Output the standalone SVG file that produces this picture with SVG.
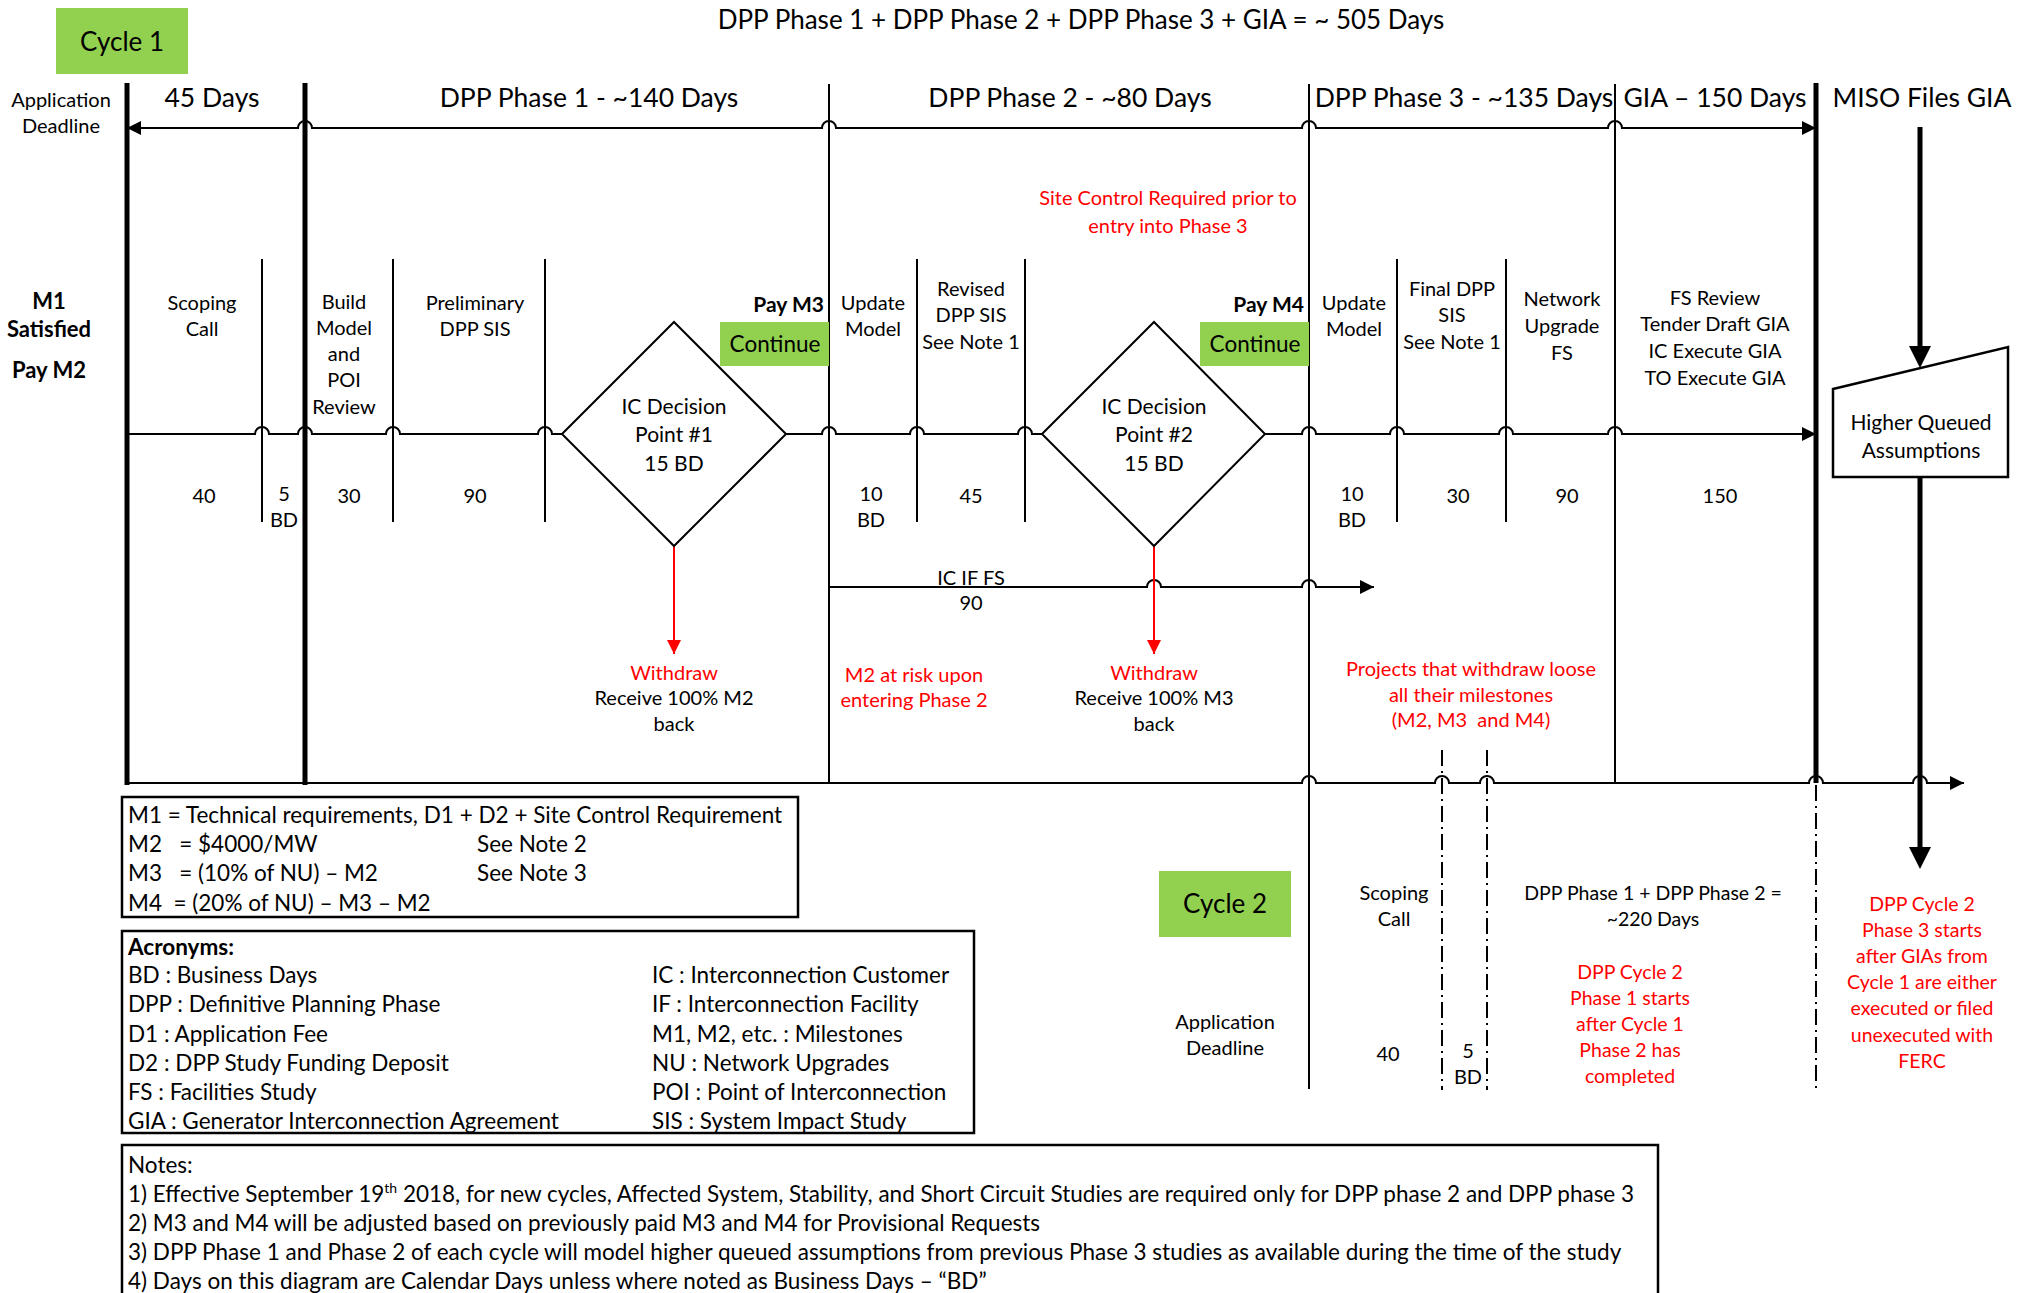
<svg xmlns="http://www.w3.org/2000/svg" width="2023" height="1293" viewBox="0 0 2023 1293">
<style>
.t{font-family:Lato,"Liberation Sans",sans-serif;font-size:20px;fill:#000;text-anchor:middle}
.big{font-size:26.5px}
.md{font-size:21px}
.sm{font-size:19.5px}
.bx{font-size:22.5px}
.red{fill:#FF0000}
.b{font-weight:bold}
.l{text-anchor:start}
.e{text-anchor:end}
.ln{fill:none;stroke:#000;stroke-width:2}
.thick{fill:none;stroke:#000;stroke-width:5}
.dash{fill:none;stroke:#000;stroke-width:2;stroke-dasharray:16 5 2 5}
.rl{fill:none;stroke:#FF0000;stroke-width:2}
.box{fill:#fff;stroke:#000;stroke-width:2.5}
.green{fill:#92D050}
</style>
<defs>
<marker id="ah" viewBox="0 0 10 10" refX="10" refY="5" markerWidth="14" markerHeight="14" markerUnits="userSpaceOnUse" orient="auto-start-reverse"><path d="M0,0 L10,5 L0,10 z" fill="#000"/></marker>
<marker id="ahr" viewBox="0 0 10 10" refX="10" refY="5" markerWidth="15" markerHeight="14" markerUnits="userSpaceOnUse" orient="auto"><path d="M0,0 L10,5 L0,10 z" fill="#FF0000"/></marker>
</defs>
<rect width="2023" height="1293" fill="#fff"/>

<g id="connectors">
  <path class="ln" marker-start="url(#ah)" marker-end="url(#ah)" d="M127,128 H298 A7,7 0 0 1 312,128 H822 A7,7 0 0 1 836,128 H1302 A7,7 0 0 1 1316,128 H1608 A7,7 0 0 1 1622,128 H1816"/>
  <path class="ln" d="M127,434 H255 A7,7 0 0 1 269,434 H298 A7,7 0 0 1 312,434 H386 A7,7 0 0 1 400,434 H538 A7,7 0 0 1 552,434 H562"/>
  <path class="ln" d="M786,434 H822 A7,7 0 0 1 836,434 H910 A7,7 0 0 1 924,434 H1018 A7,7 0 0 1 1032,434 H1042"/>
  <path class="ln" marker-end="url(#ah)" d="M1265,434 H1302 A7,7 0 0 1 1316,434 H1390 A7,7 0 0 1 1404,434 H1499 A7,7 0 0 1 1513,434 H1608 A7,7 0 0 1 1622,434 H1816"/>
  <path class="ln" marker-end="url(#ah)" d="M829,587 H1147 A7,7 0 0 1 1161,587 H1302 A7,7 0 0 1 1316,587 H1374"/>
  <path class="ln" marker-end="url(#ah)" d="M127,783 H1302 A7,7 0 0 1 1316,783 H1435 A7,7 0 0 1 1449,783 H1480 A7,7 0 0 1 1494,783 H1809 A7,7 0 0 1 1823,783 H1913 A7,7 0 0 1 1927,783 H1964"/>
  <path class="thick" d="M127,83 V785"/>
  <path class="thick" d="M305,83 V785"/>
  <path class="thick" d="M1816,83 V783"/>
  <path class="ln" d="M829,84 V783"/>
  <path class="ln" d="M1309,84 V1089"/>
  <path class="ln" d="M1615,84 V783"/>
  <path class="ln" d="M262,259 V522 M393,259 V522 M545,259 V522 M917,259 V522 M1025,259 V522 M1397,259 V522 M1506,259 V522"/>
  <path class="dash" d="M1442,750 V1090 M1487,750 V1090 M1816,785 V1090"/>
  <path class="rl" marker-end="url(#ahr)" d="M674,546 V654"/>
  <path class="rl" marker-end="url(#ahr)" d="M1154,546 V654"/>
  <path class="thick" d="M1920,127 V350"/>
  <polygon points="1909,346 1931,346 1920,368" fill="#000"/>
  <path class="thick" d="M1920,477 V850"/>
  <polygon points="1909,847 1931,847 1920,869" fill="#000"/>
</g>

<g id="title">
  <text class="t" style="font-size:26px" x="1081" y="29">DPP Phase 1 + DPP Phase 2 + DPP Phase 3 + GIA = ~ 505 Days</text>
</g>

<g id="cycle1">
  <rect class="green" x="56" y="8" width="132" height="66"/>
  <text class="t" style="font-size:26px" x="122" y="51">Cycle 1</text>
</g>

<g id="phase-labels">
  <text class="t big" x="212" y="107">45 Days</text>
  <text class="t big" x="589" y="107">DPP Phase 1 - ~140 Days</text>
  <text class="t big" x="1070" y="107">DPP Phase 2 - ~80 Days</text>
  <text class="t big" x="1464" y="107">DPP Phase 3 - ~135 Days</text>
  <text class="t big" x="1715" y="107">GIA – 150 Days</text>
  <text class="t big" x="1922" y="107">MISO Files GIA</text>
</g>

<g id="app-deadline">
  <text class="t" x="61" y="107">Application</text>
  <text class="t" x="61" y="133">Deadline</text>
</g>

<g id="m1-satisfied">
  <text class="t b" style="font-size:22px" x="49" y="309">M1</text>
  <text class="t b" style="font-size:22px" x="49" y="337">Satisfied</text>
  <text class="t b" style="font-size:22px" x="49" y="378">Pay M2</text>
</g>

<g id="scoping-call">
  <text class="t" x="202" y="310">Scoping</text>
  <text class="t" x="202" y="336">Call</text>
  <text class="t" x="204" y="503">40</text>
  <text class="t" x="284" y="501">5</text>
  <text class="t" x="284" y="527">BD</text>
</g>

<g id="build-model">
  <text class="t" x="344" y="309">Build</text>
  <text class="t" x="344" y="335">Model</text>
  <text class="t" x="344" y="361">and</text>
  <text class="t" x="344" y="387">POI</text>
  <text class="t" x="344" y="414">Review</text>
  <text class="t" x="349" y="503">30</text>
</g>

<g id="preliminary-sis">
  <text class="t" x="475" y="310">Preliminary</text>
  <text class="t" x="475" y="336">DPP SIS</text>
  <text class="t" x="475" y="503">90</text>
</g>

<g id="decision-1">
  <polygon class="ln" points="562,434 674,322 786,434 674,546"/>
  <text class="t md" x="674" y="414">IC Decision</text>
  <text class="t md" x="674" y="442">Point #1</text>
  <text class="t md" x="674" y="471">15 BD</text>
</g>

<g id="continue-1">
  <text class="t md b e" x="824" y="312">Pay M3</text>
  <rect class="green" x="720" y="322" width="109" height="44"/>
  <text class="t" style="font-size:22.5px" x="775" y="352">Continue</text>
</g>

<g id="withdraw-1">
  <text class="t red" x="674" y="680">Withdraw</text>
  <text class="t" x="674" y="705">Receive 100% M2</text>
  <text class="t" x="674" y="731">back</text>
</g>

<g id="update-model-2">
  <text class="t" x="873" y="310">Update</text>
  <text class="t" x="873" y="336">Model</text>
  <text class="t" x="871" y="501">10</text>
  <text class="t" x="871" y="527">BD</text>
</g>

<g id="revised-sis">
  <text class="t" x="971" y="296">Revised</text>
  <text class="t" x="971" y="322">DPP SIS</text>
  <text class="t" x="971" y="349">See Note 1</text>
  <text class="t" x="971" y="503">45</text>
</g>

<g id="site-control">
  <text class="t red" x="1168" y="205">Site Control Required prior to</text>
  <text class="t red" x="1168" y="233">entry into Phase 3</text>
</g>

<g id="ic-if-fs">
  <text class="t" x="971" y="585">IC IF FS</text>
  <text class="t" x="971" y="610">90</text>
</g>

<g id="m2-risk">
  <text class="t red" x="914" y="682">M2 at risk upon</text>
  <text class="t red" x="914" y="707">entering Phase 2</text>
</g>

<g id="decision-2">
  <polygon class="ln" points="1042,434 1154,322 1265,434 1154,546"/>
  <text class="t md" x="1154" y="414">IC Decision</text>
  <text class="t md" x="1154" y="442">Point #2</text>
  <text class="t md" x="1154" y="471">15 BD</text>
</g>

<g id="continue-2">
  <text class="t md b e" x="1304" y="312">Pay M4</text>
  <rect class="green" x="1200" y="322" width="109" height="44"/>
  <text class="t" style="font-size:22.5px" x="1255" y="352">Continue</text>
</g>

<g id="withdraw-2">
  <text class="t red" x="1154" y="680">Withdraw</text>
  <text class="t" x="1154" y="705">Receive 100% M3</text>
  <text class="t" x="1154" y="731">back</text>
</g>

<g id="update-model-3">
  <text class="t" x="1354" y="310">Update</text>
  <text class="t" x="1354" y="336">Model</text>
  <text class="t" x="1352" y="501">10</text>
  <text class="t" x="1352" y="527">BD</text>
</g>

<g id="final-sis">
  <text class="t" x="1452" y="296">Final DPP</text>
  <text class="t" x="1452" y="322">SIS</text>
  <text class="t" x="1452" y="349">See Note 1</text>
  <text class="t" x="1458" y="503">30</text>
</g>

<g id="nu-fs">
  <text class="t" x="1562" y="306">Network</text>
  <text class="t" x="1562" y="333">Upgrade</text>
  <text class="t" x="1562" y="360">FS</text>
  <text class="t" x="1567" y="503">90</text>
</g>

<g id="gia">
  <text class="t" x="1715" y="305">FS Review</text>
  <text class="t" x="1715" y="331">Tender Draft GIA</text>
  <text class="t" x="1715" y="358">IC Execute GIA</text>
  <text class="t" x="1715" y="385">TO Execute GIA</text>
  <text class="t" x="1720" y="503">150</text>
</g>

<g id="withdraw-note">
  <text class="t red" x="1471" y="676">Projects that withdraw loose</text>
  <text class="t red" x="1471" y="702">all their milestones</text>
  <text class="t red" x="1471" y="727" xml:space="preserve">(M2, M3  and M4)</text>
</g>

<g id="higher-queued">
  <polygon points="1833,389 2008,347 2008,477 1833,477" fill="#fff" stroke="#000" stroke-width="2.5"/>
  <text class="t" style="font-size:21px" x="1921" y="430">Higher Queued</text>
  <text class="t" style="font-size:21px" x="1921" y="458">Assumptions</text>
</g>

<g id="cycle2">
  <rect class="green" x="1159" y="871" width="132" height="66"/>
  <text class="t" style="font-size:26px" x="1225" y="913">Cycle 2</text>
  <text class="t" x="1225" y="1029">Application</text>
  <text class="t" x="1225" y="1055">Deadline</text>
</g>

<g id="cycle2-scoping">
  <text class="t" x="1394" y="900">Scoping</text>
  <text class="t" x="1394" y="926">Call</text>
  <text class="t" x="1388" y="1061">40</text>
  <text class="t" x="1468" y="1058">5</text>
  <text class="t" x="1468" y="1084">BD</text>
</g>

<g id="cycle2-phases">
  <text class="t sm" x="1653" y="900">DPP Phase 1 + DPP Phase 2 =</text>
  <text class="t sm" x="1653" y="926">~220 Days</text>
  <text class="t sm red" x="1630" y="979">DPP Cycle 2</text>
  <text class="t sm red" x="1630" y="1005">Phase 1 starts</text>
  <text class="t sm red" x="1630" y="1031">after Cycle 1</text>
  <text class="t sm red" x="1630" y="1057">Phase 2 has</text>
  <text class="t sm red" x="1630" y="1083">completed</text>
</g>

<g id="cycle2-phase3">
  <text class="t sm red" x="1922" y="911">DPP Cycle 2</text>
  <text class="t sm red" x="1922" y="937">Phase 3 starts</text>
  <text class="t sm red" x="1922" y="963">after GIAs from</text>
  <text class="t sm red" x="1922" y="989">Cycle 1 are either</text>
  <text class="t sm red" x="1922" y="1015">executed or filed</text>
  <text class="t sm red" x="1922" y="1042">unexecuted with</text>
  <text class="t sm red" x="1922" y="1068">FERC</text>
</g>

<g id="milestones-box">
  <rect class="box" x="122" y="797" width="676" height="120"/>
  <text class="t bx l" x="128" y="823">M1 = Technical requirements, D1 + D2 + Site Control Requirement</text>
  <text class="t bx l" x="128" y="852" xml:space="preserve">M2   = $4000/MW</text>
  <text class="t bx l" x="477" y="852">See Note 2</text>
  <text class="t bx l" x="128" y="881" xml:space="preserve">M3   = (10% of NU) – M2</text>
  <text class="t bx l" x="477" y="881">See Note 3</text>
  <text class="t bx l" x="128" y="911" xml:space="preserve">M4  = (20% of NU) – M3 – M2</text>
</g>

<g id="acronyms-box">
  <rect class="box" x="122" y="931" width="852" height="202"/>
  <text class="t bx l b" x="128" y="955">Acronyms:</text>
  <text class="t bx l" x="128" y="983">BD : Business Days</text>
  <text class="t bx l" x="128" y="1012">DPP : Definitive Planning Phase</text>
  <text class="t bx l" x="128" y="1042">D1 : Application Fee</text>
  <text class="t bx l" x="128" y="1071">D2 : DPP Study Funding Deposit</text>
  <text class="t bx l" x="128" y="1100">FS : Facilities Study</text>
  <text class="t bx l" x="128" y="1129">GIA : Generator Interconnection Agreement</text>
  <text class="t bx l" x="652" y="983">IC : Interconnection Customer</text>
  <text class="t bx l" x="652" y="1012">IF : Interconnection Facility</text>
  <text class="t bx l" x="652" y="1042">M1, M2, etc. : Milestones</text>
  <text class="t bx l" x="652" y="1071">NU : Network Upgrades</text>
  <text class="t bx l" x="652" y="1100">POI : Point of Interconnection</text>
  <text class="t bx l" x="652" y="1129">SIS : System Impact Study</text>
</g>

<g id="notes-box">
  <rect class="box" x="122" y="1145" width="1536" height="160"/>
  <text class="t bx l" x="128" y="1173">Notes:</text>
  <text class="t bx l" x="128" y="1202">1) Effective September 19<tspan dy="-9" style="font-size:14px">th</tspan><tspan dy="9"> 2018, for new cycles, Affected System, Stability, and Short Circuit Studies are required only for DPP phase 2 and DPP phase 3</tspan></text>
  <text class="t bx l" x="128" y="1231">2) M3 and M4 will be adjusted based on previously paid M3 and M4 for Provisional Requests</text>
  <text class="t bx l" x="128" y="1260">3) DPP Phase 1 and Phase 2 of each cycle will model higher queued assumptions from previous Phase 3 studies as available during the time of the study</text>
  <text class="t bx l" x="128" y="1289">4) Days on this diagram are Calendar Days unless where noted as Business Days – “BD”</text>
</g>
</svg>
